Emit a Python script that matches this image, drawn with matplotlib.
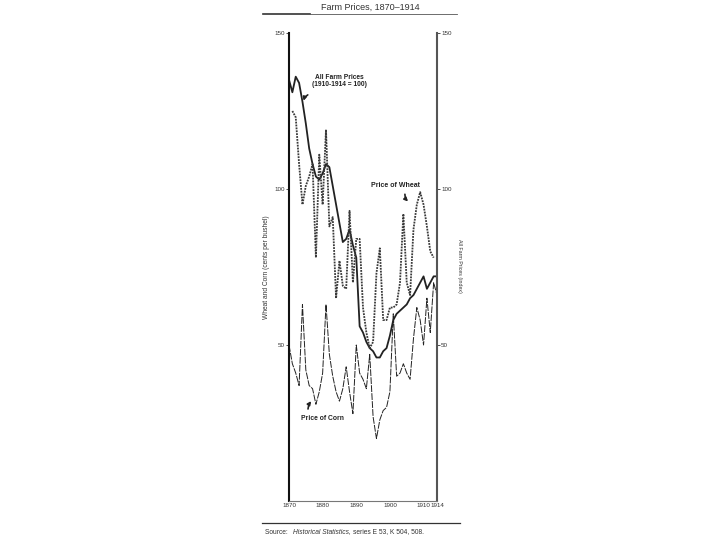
import matplotlib
matplotlib.use("Agg")
import matplotlib.pyplot as plt
from matplotlib.lines import Line2D

plt.rcParams['font.family'] = ['Liberation Sans', 'DejaVu Sans']

# data
years = list(range(1870, 1915))
farm_index = [135, 131, 136, 134, 128, 121, 113, 108, 104, 103,
              105, 108, 107, 101, 95, 89, 83, 84, 87, 82,
              78, 56, 54, 51, 49, 48, 46, 46, 48, 49,
              53, 58, 60, 61, 62, 63, 65, 66, 68, 70,
              72, 68, 70, 72, 72]
wheat_years = list(range(1871, 1914))
wheat_cents = [125, 123, 108, 95, 101, 104, 108, 78, 111, 95,
               119, 88, 91, 65, 77, 69, 68, 93, 70, 84,
               84, 62, 54, 49, 51, 73, 81, 58, 58, 62,
               62, 63, 70, 92, 70, 66, 87, 95, 99, 95,
               88, 80, 78]
corn_cents = [50, 44, 41, 37, 63, 42, 37, 36, 31, 35,
              41, 63, 47, 40, 35, 32, 36, 43, 35, 28,
              50, 41, 39, 36, 47, 27, 20, 26, 29, 30,
              35, 60, 40, 41, 44, 41, 39, 52, 62, 58,
              50, 65, 54, 70, 66]
xticks = [1870, 1880, 1890, 1900, 1910, 1914]
yticks = [50, 100, 150]

W, H = 720, 540
ink = '#222222'
grey = '#3a3a3a'

fig = plt.figure(figsize=(7.2, 5.4), dpi=100)
ax = fig.add_axes([289/W, 1-501/H, (437-289)/W, (501-33)/H])

ax.plot(years, farm_index, color=ink, lw=1.3)
ax.plot(wheat_years, wheat_cents, color=grey, lw=1.3, linestyle=(0, (1, 0.6)))
ax.plot(years, corn_cents, color=ink, lw=0.7, linestyle=(0, (7, 1.2)))

ax.set_xlim(1870, 1914)
ax.set_ylim(0, 150)
ax.spines['top'].set_visible(False)
ax.spines['left'].set_linewidth(1.5)
ax.spines['left'].set_color('#111111')
ax.spines['right'].set_linewidth(1.5)
ax.spines['right'].set_color('#555555')
ax.spines['bottom'].set_linewidth(0.8)
ax.spines['bottom'].set_color('#777777')

ax.set_xticks(xticks)
ax.set_xticklabels([str(t) for t in xticks])
ax.set_yticks(yticks)
ax.set_yticklabels([str(t) for t in yticks])
ax.tick_params(axis='x', length=0, pad=1.5, labelsize=4.5, labelcolor='#333333')
ax.tick_params(axis='y', direction='out', length=2, width=0.6, pad=1,
               labelsize=4.5, labelcolor='#333333', left=True, right=True,
               labelright=True, colors='#333333')
ax.set_ylabel('Wheat and Corn (cents per bushel)', fontsize=4.8, color='#333333', labelpad=3)

fig.text(460/W, 1-266/H, 'All Farm Prices (index)', rotation=270, fontsize=3.8,
         color='#333333', ha='center', va='center')

# annotations
ax.text(1885, 134.5, 'All Farm Prices\n(1910-1914 = 100)', fontsize=4.8, fontweight='bold',
        ha='center', va='center', color=ink, linespacing=1.0)
ax.annotate('', xy=(1874.2, 127.4), xytext=(1876.3, 130.6),
            arrowprops=dict(arrowstyle='-|>', color=ink, lw=1.2, mutation_scale=5,
                            connectionstyle='arc3,rad=0.3'))
ax.text(1901.8, 101.2, 'Price of Wheat', fontsize=5, fontweight='bold',
        ha='center', va='center', color=ink)
ax.annotate('', xy=(1906.0, 95.4), xytext=(1904.5, 99.2),
            arrowprops=dict(arrowstyle='-|>', color=ink, lw=1.2, mutation_scale=5,
                            connectionstyle='arc3,rad=0.3'))
ax.text(1879.8, 26.3, 'Price of Corn', fontsize=4.9, fontweight='bold',
        ha='center', va='center', color=ink)
ax.annotate('', xy=(1877.1, 32.7), xytext=(1875.6, 28.6),
            arrowprops=dict(arrowstyle='-|>', color=ink, lw=1.2, mutation_scale=5,
                            connectionstyle='arc3,rad=-0.2'))

# title and rules
fig.text(370/W, 1-7/H, 'Farm Prices, 1870\u20131914', fontsize=6.5, color='#333333',
         ha='center', va='center')
fig.add_artist(Line2D([263/W, 310/W], [1-14/H, 1-14/H], color='#333333', lw=1.2))
fig.add_artist(Line2D([310/W, 457/W], [1-14/H, 1-14/H], color='#555555', lw=0.6))
fig.add_artist(Line2D([262/W, 460/W], [1-523/H, 1-523/H], color='#333333', lw=0.9))

# source line, italic title chained onto the plain parts
src1 = fig.text(265/W, 1-532/H, 'Source:   ', fontsize=4.8, color='#333333', va='center')
src2 = plt.annotate('Historical Statistics, ', xy=(1, 0.5), xycoords=src1, va='center',
                    fontsize=4.8, style='italic', color='#333333')
plt.annotate('series E 53, K 504, 508.', xy=(1, 0.5), xycoords=src2, va='center',
             fontsize=4.8, color='#333333')

fig.savefig('out.png', dpi=100, facecolor='white')
